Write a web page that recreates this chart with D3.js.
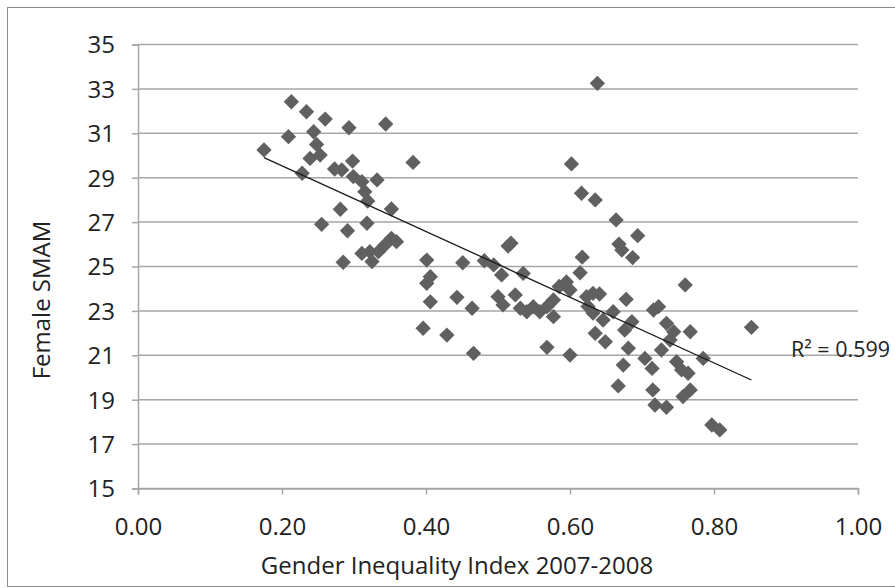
<!DOCTYPE html>
<html>
<head>
<meta charset="utf-8">
<script src="https://cdn.jsdelivr.net/npm/d3@7"></script>
<style>
  html, body { margin: 0; padding: 0; background: #fff; }
  svg { display: block; }
  text { font-family: "Open Sans", Lato, sans-serif; fill: #222; }
</style>
</head>
<body>
<svg id="chart" width="895" height="588"></svg>
<script>
// Gender Inequality Index 2007-2008 (x) and Female SMAM (y)
const gii = [
  0.175, 0.213, 0.209, 0.234, 0.244, 0.248, 0.253, 0.239, 0.260, 0.293,
  0.344, 0.228, 0.273, 0.283, 0.298, 0.299, 0.311, 0.332, 0.315, 0.319,
  0.281, 0.352, 0.382, 0.255, 0.318, 0.291, 0.285, 0.311, 0.322, 0.325,
  0.334, 0.343, 0.352, 0.359, 0.401,
  0.396, 0.401, 0.406, 0.406, 0.429, 0.443, 0.451, 0.464, 0.466, 0.481,
  0.494, 0.500, 0.505, 0.507, 0.514, 0.518, 0.524, 0.531, 0.535, 0.540,
  0.549, 0.558, 0.568, 0.568, 0.577, 0.577, 0.585, 0.595, 0.600, 0.600,
  0.602, 0.616, 0.635, 0.638, 0.664, 0.694, 0.668, 0.672, 0.687, 0.617,
  0.614, 0.760, 0.623, 0.632, 0.641, 0.625, 0.632, 0.660, 0.678, 0.716,
  0.723, 0.646, 0.686, 0.676, 0.734, 0.744, 0.767, 0.852, 0.635, 0.649,
  0.739, 0.681, 0.727, 0.785, 0.704, 0.674, 0.714, 0.748, 0.755, 0.764,
  0.667, 0.715, 0.767, 0.757, 0.718, 0.734, 0.797, 0.808
];
const smam = [
  30.25, 32.42, 30.85, 31.97, 31.07, 30.50, 30.02, 29.87, 31.64, 31.25,
  31.42, 29.20, 29.39, 29.35, 29.75, 29.05, 28.82, 28.90, 28.37, 27.95,
  27.58, 27.59, 29.69, 26.90, 26.95, 26.61, 25.19, 25.59, 25.67, 25.22,
  25.67, 25.97, 26.27, 26.12, 25.29,
  22.22, 24.24, 24.54, 23.41, 21.91, 23.61, 25.17, 23.12, 21.09, 25.26,
  25.07, 23.64, 24.62, 23.27, 25.92, 26.05, 23.72, 23.12, 24.69, 22.96,
  23.19, 22.96, 23.19, 21.36, 23.49, 22.74, 24.10, 24.30, 23.94, 21.01,
  29.62, 28.30, 28.00, 33.25, 27.10, 26.39, 26.01, 25.74, 25.40, 25.42,
  24.72, 24.17, 23.64, 23.79, 23.76, 23.20, 22.90, 22.96, 23.52, 23.04,
  23.19, 22.59, 22.51, 22.14, 22.44, 22.06, 22.06, 22.26, 21.99, 21.61,
  21.69, 21.32, 21.24, 20.86, 20.86, 20.56, 20.41, 20.71, 20.34, 20.19,
  19.62, 19.44, 19.44, 19.14, 18.76, 18.66, 17.86, 17.64
];
const xTicks = [0, 0.2, 0.4, 0.6, 0.8, 1.0];
const yTicks = [15, 17, 19, 21, 23, 25, 27, 29, 31, 33, 35];
const xTitle = "Gender Inequality Index 2007-2008";
const yTitle = "Female SMAM";
const r2Label = "R\u00B2 = 0.599";

const svg = d3.select("#chart");
const W = 895, H = 588;
const FS = 24;

// outer frame
svg.append("rect").attr("x", 7.5).attr("y", 7.5).attr("width", W).attr("height", 579)
  .attr("fill", "none").attr("stroke", "#8a8a8a").attr("stroke-width", 1);

const x = d3.scaleLinear().domain([0, 1]).range([138, 858]);
const y = d3.scaleLinear().domain([15, 35]).range([488.5, 44.5]);

// gridlines
svg.append("g").selectAll("line").data(yTicks).join("line")
  .attr("x1", x(0)).attr("x2", x(1))
  .attr("y1", d => y(d)).attr("y2", d => y(d))
  .attr("stroke", "#a6a6a6").attr("stroke-width", 1.5);

// y axis
const yAxis = svg.append("g").attr("transform", `translate(${x(0)},0)`)
  .call(d3.axisLeft(y).tickValues(yTicks).tickSize(6).tickPadding(17).tickFormat(d3.format("d")));
yAxis.select(".domain").attr("stroke", "#a6a6a6").attr("stroke-width", 1.5);
yAxis.selectAll(".tick line").attr("stroke", "#a6a6a6").attr("stroke-width", 1.5);
yAxis.selectAll(".tick text").attr("font-size", FS).attr("font-family", "'Open Sans', sans-serif")
  .attr("fill", "#222").attr("dy", "0.35em");

// x axis
const xAxis = svg.append("g").attr("transform", `translate(0,${y(15)})`)
  .call(d3.axisBottom(x).tickValues(xTicks).tickSize(6).tickPadding(23).tickFormat(d3.format(".2f")));
xAxis.select(".domain").attr("stroke", "#a6a6a6").attr("stroke-width", 1.5);
xAxis.selectAll(".tick line").attr("stroke", "#a6a6a6").attr("stroke-width", 1.5);
xAxis.selectAll(".tick text").attr("font-size", FS).attr("font-family", "'Open Sans', sans-serif")
  .attr("fill", "#222");

// titles
svg.append("text").attr("x", 457).attr("y", 574).attr("text-anchor", "middle")
  .attr("font-size", FS).text(xTitle);
svg.append("text").attr("transform", "translate(50,300) rotate(-90)")
  .attr("text-anchor", "middle").attr("font-size", FS).text(yTitle);

// points
const pts = gii.map((g, i) => ({ g, s: smam[i] }));
svg.append("g").selectAll("path").data(pts).join("path")
  .attr("d", d3.symbol(d3.symbolDiamond2, 150))
  .attr("transform", d => `translate(${x(d.g)},${y(d.s)})`)
  .attr("fill", "#606060");

// linear trend (least squares over the points)
const mx = d3.mean(gii), my = d3.mean(smam);
const slope = d3.sum(gii, (g, i) => (g - mx) * (smam[i] - my)) / d3.sum(gii, g => (g - mx) ** 2);
const icpt = my - slope * mx;
const [x0, x1] = d3.extent(gii);
svg.append("line")
  .attr("x1", x(x0)).attr("y1", y(icpt + slope * x0))
  .attr("x2", x(x1)).attr("y2", y(icpt + slope * x1))
  .attr("stroke", "#1a1a1a").attr("stroke-width", 1.3);

svg.append("text").attr("x", 791).attr("y", 357).attr("font-size", 21.5).text(r2Label);
</script>
</body>
</html>
